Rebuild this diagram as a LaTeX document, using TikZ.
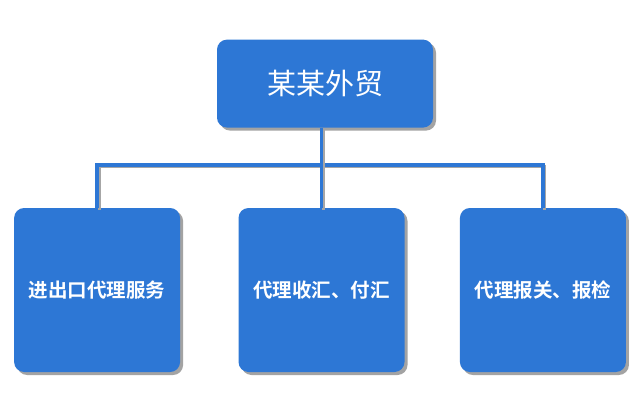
\documentclass[tikz,border=0pt]{standalone}
\usepackage{fontspec}
\newfontfamily\cjk{Noto Sans CJK SC}[BoldFont={Noto Sans CJK SC Bold}]
\usetikzlibrary{positioning,shadows}
\definecolor{boxblue}{RGB}{45,119,213}
\tikzset{
	box/.style={fill=boxblue, rounded corners=10pt, text=white, align=center,
		drop shadow={shadow xshift=3pt, shadow yshift=-3pt, fill=black!45, opacity=0.8}},
	leaf/.style={box, minimum width=166pt, minimum height=164pt, font=\cjk\bfseries\fontsize{19.5}{22}\selectfont},
	conn/.style={draw=boxblue, line width=3.6pt,
		preaction={draw=black!35, line width=3pt, transform canvas={xshift=2pt,yshift=-2pt}}}
}
\begin{document}
\begin{tikzpicture}[x=1pt,y=1pt]
	\useasboundingbox[fill=white] (0,0) rectangle (640,416);
	\node[leaf] (b) at (321.5,126) {代理收汇、付汇};
	\node[leaf, left=58pt of b] (a) {进出口代理服务};
	\node[leaf, right=55pt of b] (c) {代理报关、报检};
	\node[box, minimum width=216pt, minimum height=88pt, font=\cjk\fontsize{29}{32}\selectfont, above=80pt of b, xshift=3.5pt] (m) {某某外贸};
	
	\draw[conn] (a.north) -- ++(0,43) -| (c.north);
	\draw[conn] (m.south -| b.north) -- (b.north);
\end{tikzpicture}
\end{document}
